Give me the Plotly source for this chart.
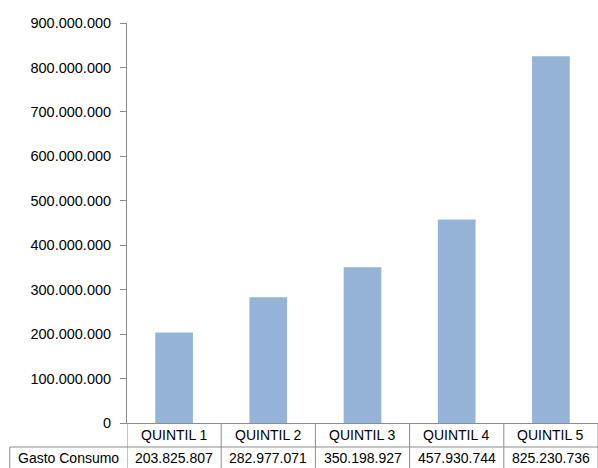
import plotly.graph_objects as go

# Consumption spending by income quintile
categories = ["QUINTIL 1", "QUINTIL 2", "QUINTIL 3", "QUINTIL 4", "QUINTIL 5"]
gasto_consumo = [203825807, 282977071, 350198927, 457930744, 825230736]
row_label = "Gasto Consumo"
y_ticks = [0, 100000000, 200000000, 300000000, 400000000,
           500000000, 600000000, 700000000, 800000000, 900000000]

FONT = "Liberation Sans"
GRID = "#8c8c8c"
BAR = "#95B3D7"


def fmt(v):
    return f"{v:,}".replace(",", ".")


fig = go.Figure()
fig.add_trace(go.Bar(
    x=categories, y=gasto_consumo,
    marker=dict(color=BAR, line=dict(width=0)),
    width=0.4, hoverinfo="x+y",
))

# data-table row offsets (paper units below the plot area)
y_row1 = -0.06     # line between header row and value row
y_bottom = -0.2

shapes = []
# horizontal line under category header row, extended under the row label cell
shapes.append(dict(type="line", xref="paper", yref="paper",
                   x0=-0.249, x1=1, y0=y_row1, y1=y_row1,
                   line=dict(color=GRID, width=1)))
# left border of row label cell
shapes.append(dict(type="line", xref="paper", yref="paper",
                   x0=-0.249, x1=-0.249, y0=y_row1, y1=y_bottom,
                   line=dict(color=GRID, width=1)))
# column separators
for i in range(len(categories) + 1):
    shapes.append(dict(type="line", xref="x", yref="paper",
                       x0=i - 0.5, x1=i - 0.5, y0=0, y1=y_bottom,
                       line=dict(color=GRID, width=1)))

annotations = []
for c, v in zip(categories, gasto_consumo):
    annotations.append(dict(x=c, y=-0.03, xref="x", yref="paper",
                            text=c, showarrow=False,
                            font=dict(family=FONT, size=14, color="#000"),
                            xanchor="center", yanchor="middle"))
    annotations.append(dict(x=c, y=-0.0875, xref="x", yref="paper",
                            text=fmt(v), showarrow=False,
                            font=dict(family=FONT, size=14, color="#000"),
                            xanchor="center", yanchor="middle"))
annotations.append(dict(x=-0.125, y=-0.0875, xref="paper", yref="paper",
                        text=row_label, showarrow=False,
                        font=dict(family=FONT, size=14, color="#000"),
                        xanchor="center", yanchor="middle"))

fig.update_layout(
    width=598, height=468,
    margin=dict(l=127, r=0, t=23, b=45, pad=0),
    paper_bgcolor="white", plot_bgcolor="white",
    separators=",.",
    showlegend=False,
    font=dict(family=FONT, size=14, color="#000"),
    xaxis=dict(type="category", range=[-0.5, 4.5], showticklabels=False,
               showline=True, linecolor=GRID, linewidth=1, ticks="",
               showgrid=False, zeroline=False),
    yaxis=dict(range=[0, 900000000], tickvals=y_ticks, tickformat=",d",
               showline=True, linecolor=GRID, linewidth=1,
               ticks="outside", ticklen=6, tickcolor=GRID,
               ticklabelstandoff=6,
               showgrid=False, zeroline=False,
               tickfont=dict(family=FONT, size=14.5, color="#000")),
    shapes=shapes,
    annotations=annotations,
)

fig.write_html("out.html")
